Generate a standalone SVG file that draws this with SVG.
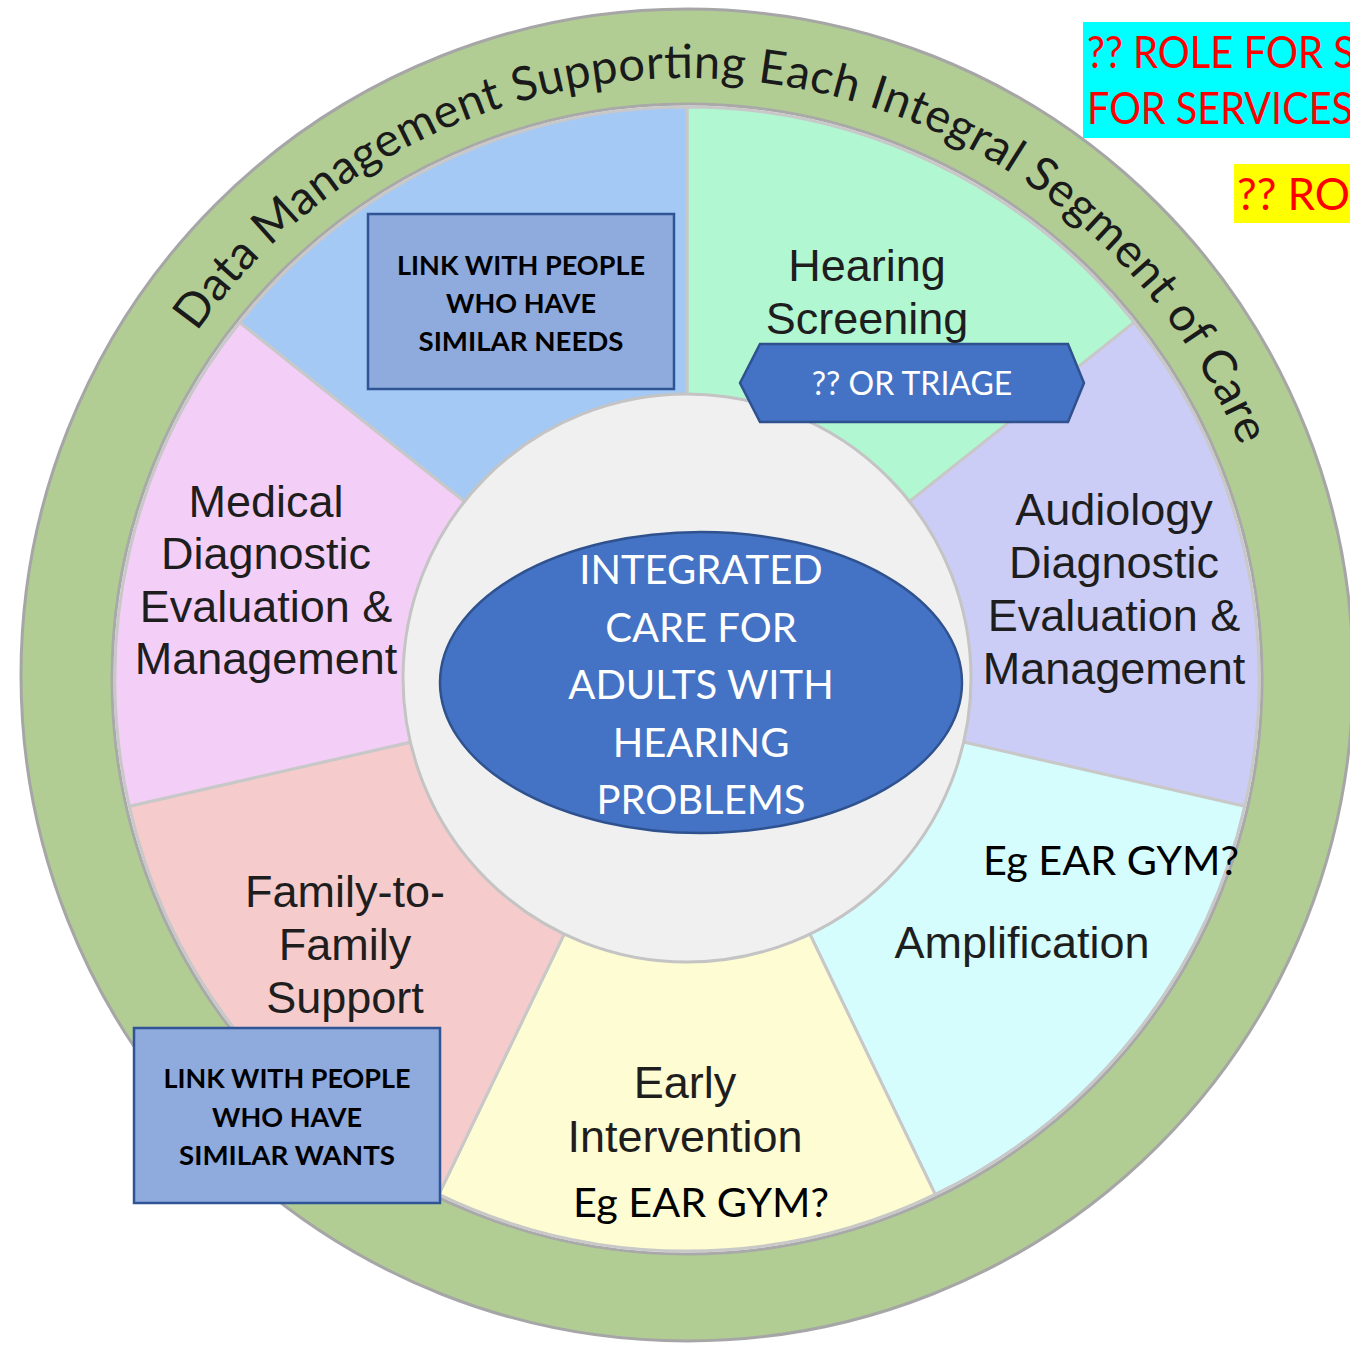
<svg xmlns="http://www.w3.org/2000/svg" width="1350" height="1347" viewBox="0 0 1350 1347">
<defs>
<style>
.seg{stroke:#c8c8c8;stroke-width:3;}
.lbl{font-family:"Liberation Sans",Arial,sans-serif;font-size:45px;fill:#1e1e1e;text-anchor:middle;}
.cal{font-family:Lato,"Open Sans",sans-serif;}
.box{fill:#8faadc;stroke:#2f5597;stroke-width:2.5;}
.boxt{font-family:Lato,"Open Sans",sans-serif;font-weight:700;font-size:26px;fill:#000;text-anchor:middle;}
.blue{fill:#4472c4;stroke:#2f528f;stroke-width:2.5;}
.wt{font-family:Lato,"Open Sans",sans-serif;fill:#fff;text-anchor:middle;}
.red{font-family:Lato,"Open Sans",sans-serif;font-size:44px;fill:#ff0000;}
</style>
<path id="ringPath" d="M 196.7 332.2 A 600 600 0 0 1 1240.5 446.5"/>
</defs>
<rect width="1350" height="1347" fill="#ffffff"/>

<g id="ring">
<circle cx="687" cy="675" r="666" fill="#b1cd94" stroke="#a6a6a6" stroke-width="3"/>
<circle cx="687" cy="679" r="575" fill="#f6f6f6" stroke="#a9a9a9" stroke-width="3"/>
<text class="cal" font-size="47" fill="#1a1a1a"><textPath href="#ringPath" textLength="1278" lengthAdjust="spacing">Data Management Supporting Each Integral Segment of Care</textPath></text>
</g>

<g id="seg-hearing-screening">
<path class="seg" fill="#b1f7d1" d="M687 679 L687 107 A572 572 0 0 1 1134.2 322.4 Z"/>
<text class="lbl" x="867" y="281">Hearing</text>
<text class="lbl" x="867" y="334">Screening</text>
</g>
<g id="seg-audiology">
<path class="seg" fill="#cccdf6" d="M687 679 L1134.2 322.4 A572 572 0 0 1 1244.7 806.3 Z"/>
<text class="lbl" x="1114" y="525">Audiology</text>
<text class="lbl" x="1114" y="578">Diagnostic</text>
<text class="lbl" x="1114" y="631">Evaluation &amp;</text>
<text class="lbl" x="1114" y="684">Management</text>
</g>
<g id="seg-amplification">
<path class="seg" fill="#d5fdfd" d="M687 679 L1244.7 806.3 A572 572 0 0 1 935.2 1194.4 Z"/>
<text class="lbl" x="1022" y="958">Amplification</text>
<text class="cal" x="983" y="875" font-size="40" fill="#000" textLength="256" lengthAdjust="spacingAndGlyphs">Eg EAR GYM?</text>
</g>
<g id="seg-early-intervention">
<path class="seg" fill="#fefcd2" d="M687 679 L935.2 1194.4 A572 572 0 0 1 438.8 1194.4 Z"/>
<text class="lbl" x="685" y="1098">Early</text>
<text class="lbl" x="685" y="1152">Intervention</text>
<text class="cal" x="573" y="1217" font-size="40" fill="#000" textLength="256" lengthAdjust="spacingAndGlyphs">Eg EAR GYM?</text>
</g>
<g id="seg-family-support">
<path class="seg" fill="#f5cbcb" d="M687 679 L438.8 1194.4 A572 572 0 0 1 129.3 806.3 Z"/>
<text class="lbl" x="345" y="907">Family-to-</text>
<text class="lbl" x="345" y="960">Family</text>
<text class="lbl" x="345" y="1013">Support</text>
</g>
<g id="seg-medical">
<path class="seg" fill="#f3cff8" d="M687 679 L129.3 806.3 A572 572 0 0 1 239.8 322.4 Z"/>
<text class="lbl" x="266" y="517">Medical</text>
<text class="lbl" x="266" y="569">Diagnostic</text>
<text class="lbl" x="266" y="622">Evaluation &amp;</text>
<text class="lbl" x="266" y="674">Management</text>
</g>
<g id="seg-link">
<path class="seg" fill="#a4c9f5" d="M687 679 L239.8 322.4 A572 572 0 0 1 687 107 Z"/>
</g>

<g id="center">
<circle cx="687" cy="678" r="284" fill="#f0f0f0" stroke="#c4c4c4" stroke-width="3"/>
<ellipse class="blue" cx="701" cy="682.5" rx="261" ry="150.5"/>
<text class="wt" font-size="40" x="701" y="584">INTEGRATED</text>
<text class="wt" font-size="40" x="701" y="641.5">CARE FOR</text>
<text class="wt" font-size="40" x="701" y="699">ADULTS WITH</text>
<text class="wt" font-size="40" x="701" y="756.5">HEARING</text>
<text class="wt" font-size="40" x="701" y="814">PROBLEMS</text>
</g>

<g id="triage">
<polygon class="blue" points="740,383 760,344 1068,344 1084,383 1068,422 760,422"/>
<text class="wt" font-size="32" x="912" y="395">?? OR TRIAGE</text>
</g>

<g id="link-needs">
<rect class="box" x="368" y="214" width="306" height="175"/>
<text class="boxt" x="521" y="275" textLength="248" lengthAdjust="spacingAndGlyphs">LINK WITH PEOPLE</text>
<text class="boxt" x="521" y="313" textLength="150" lengthAdjust="spacingAndGlyphs">WHO HAVE</text>
<text class="boxt" x="521" y="351" textLength="205" lengthAdjust="spacingAndGlyphs">SIMILAR NEEDS</text>
</g>

<g id="link-wants">
<rect class="box" x="134" y="1028" width="306" height="175"/>
<text class="boxt" x="287" y="1088" textLength="247" lengthAdjust="spacingAndGlyphs">LINK WITH PEOPLE</text>
<text class="boxt" x="287" y="1127" textLength="150" lengthAdjust="spacingAndGlyphs">WHO HAVE</text>
<text class="boxt" x="287" y="1165" textLength="216" lengthAdjust="spacingAndGlyphs">SIMILAR WANTS</text>
</g>

<g id="note-role-services">
<rect x="1083" y="22" width="280" height="116" fill="#00ffff"/>
<text class="red" x="1087" y="68" textLength="268" lengthAdjust="spacingAndGlyphs">?? ROLE FOR S</text>
<text class="red" x="1087" y="124" textLength="266" lengthAdjust="spacingAndGlyphs">FOR SERVICES</text>
</g>

<g id="note-role">
<rect x="1234" y="164" width="130" height="59" fill="#ffff00"/>
<text class="red" x="1237" y="210" textLength="113" lengthAdjust="spacingAndGlyphs">?? RO</text>
</g>
</svg>
